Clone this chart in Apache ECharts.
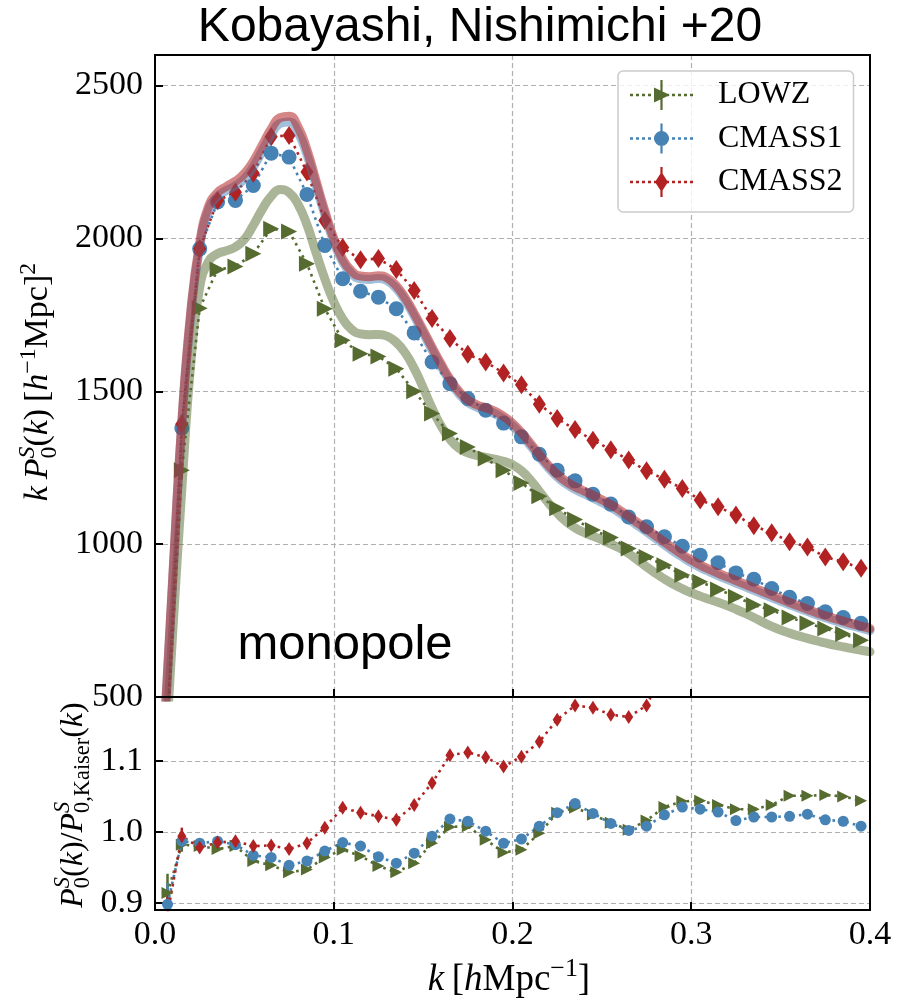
<!DOCTYPE html>
<html>
<head>
<meta charset="utf-8">
<script src="https://cdn.jsdelivr.net/npm/echarts@6/dist/echarts.min.js"></script>
<style>
  html, body { margin: 0; padding: 0; background: #ffffff; }
  #chart { width: 897px; height: 1006px; }
</style>
</head>
<body>
<div id="chart"></div>
<script>
// ---------------------------------------------------------------------------
// Measured monopole k P0(k) for three BOSS samples, with model curves and the
// ratio to the linear Kaiser prediction.
// ---------------------------------------------------------------------------

// k bin centres [h/Mpc]
const kBins = [0.007, 0.015, 0.025, 0.035, 0.045, 0.055, 0.065, 0.075, 0.085, 0.095,
               0.105, 0.115, 0.125, 0.135, 0.145, 0.155, 0.165, 0.175, 0.185, 0.195,
               0.205, 0.215, 0.225, 0.235, 0.245, 0.255, 0.265, 0.275, 0.285, 0.295,
               0.305, 0.315, 0.325, 0.335, 0.345, 0.355, 0.365, 0.375, 0.385, 0.395];

// k P0(k) [(Mpc/h)^2]
const lowzKP = [400, 1242, 1772, 1898, 1908, 1950, 2032, 2023, 1917, 1770,
                1667, 1623, 1614, 1574, 1500, 1427, 1362, 1318, 1280, 1242,
                1200, 1157, 1117, 1081, 1046, 1022, 986, 958, 931, 899,
                877, 852, 828, 801, 784, 760, 741, 724, 706, 686];
const cmass1KP = [430, 1380, 1966, 2119, 2124, 2173, 2279, 2266, 2144, 1977,
                  1868, 1827, 1808, 1770, 1691, 1596, 1525, 1476, 1438, 1396,
                  1351, 1294, 1242, 1207, 1163, 1131, 1089, 1057, 1024, 993,
                  964, 939, 906, 885, 855, 826, 806, 779, 760, 741];
const cmass2KP = [420, 1393, 1966, 2124, 2151, 2213, 2333, 2337, 2217, 2059,
                  1970, 1930, 1934, 1898, 1830, 1738, 1673, 1621, 1596, 1560,
                  1521, 1458, 1411, 1375, 1340, 1309, 1275, 1240, 1212, 1182,
                  1144, 1122, 1095, 1060, 1037, 1008, 991, 958, 942, 921];

// 1-sigma errors on the two lowest-k bins (higher-k errors sit inside the markers)
const lowzKPErr = [60, 25];
const cmass1KPErr = [60, 25];
const cmass2KPErr = [60, 30];

// P0(k) / P0,Kaiser(k)
const lowzRatio = [0.914, 0.982, 0.980, 0.976, 0.980, 0.959, 0.953, 0.943, 0.947, 0.964,
                   0.975, 0.966, 0.952, 0.943, 0.956, 0.984, 1.007, 1.008, 0.989, 0.971,
                   0.975, 0.998, 1.027, 1.034, 1.024, 1.013, 1.003, 1.016, 1.035, 1.043,
                   1.044, 1.038, 1.032, 1.032, 1.038, 1.051, 1.051, 1.052, 1.050, 1.044];
const cmass1Ratio = [0.898, 0.987, 0.984, 0.987, 0.982, 0.967, 0.964, 0.953, 0.959, 0.973,
                     0.985, 0.980, 0.965, 0.956, 0.970, 0.994, 1.018, 1.015, 1.001, 0.984,
                     0.990, 1.008, 1.027, 1.040, 1.026, 1.012, 1.002, 1.008, 1.024, 1.035,
                     1.032, 1.028, 1.016, 1.021, 1.021, 1.022, 1.025, 1.017, 1.015, 1.008];
const cmass2Ratio = [0.885, 0.994, 0.978, 0.985, 0.987, 0.980, 0.981, 0.976, 0.984, 1.006,
                     1.034, 1.027, 1.022, 1.017, 1.038, 1.069, 1.108, 1.112, 1.105, 1.092,
                     1.106, 1.127, 1.158, 1.178, 1.175, 1.165, 1.162, 1.178, 1.230, 1.240,
                     1.230, 1.250, 1.250, 1.240, 1.260, 1.270, 1.260, 1.270, 1.260, 1.260];

const lowzRatioErr = [0.027, 0.010];
const cmass1RatioErr = [0.030, 0.010];
const cmass2RatioErr = [0.030, 0.012];

// Model predictions of k P0(k), sampled every 0.005 h/Mpc
const kModel = [0.005, 0.010, 0.015, 0.020, 0.025, 0.030, 0.035, 0.040, 0.045, 0.050,
                0.055, 0.060, 0.065, 0.070, 0.075, 0.080, 0.085, 0.090, 0.095, 0.100,
                0.105, 0.110, 0.115, 0.120, 0.125, 0.130, 0.135, 0.140, 0.145, 0.150,
                0.155, 0.160, 0.165, 0.170, 0.175, 0.180, 0.185, 0.190, 0.195, 0.200,
                0.205, 0.210, 0.215, 0.220, 0.225, 0.230, 0.235, 0.240, 0.245, 0.250,
                0.255, 0.260, 0.265, 0.270, 0.275, 0.280, 0.285, 0.290, 0.295, 0.300,
                0.305, 0.310, 0.315, 0.320, 0.325, 0.330, 0.335, 0.340, 0.345, 0.350,
                0.355, 0.360, 0.365, 0.370, 0.375, 0.380, 0.385, 0.390, 0.395, 0.400];
const lowzModel = [230, 720, 1180, 1590, 1840, 1925, 1950, 1960, 1972, 1997,
                   2043, 2095, 2138, 2160, 2150, 2112, 2045, 1955, 1868, 1793,
                   1737, 1702, 1688, 1685, 1686, 1680, 1660, 1625, 1575, 1512,
                   1445, 1387, 1343, 1314, 1299, 1290, 1284, 1278, 1271, 1260,
                   1240, 1210, 1173, 1136, 1102, 1074, 1053, 1038, 1026, 1014,
                   1001, 987, 969, 948, 926, 905, 886, 869, 854, 841,
                   830, 820, 810, 799, 787, 774, 760, 745, 731, 719,
                   709, 700, 692, 684, 677, 670, 664, 658, 653, 648];
const cmass1Model = [365, 890, 1390, 1748, 1973, 2093, 2138, 2157, 2172, 2195,
                     2234, 2286, 2339, 2376, 2381, 2347, 2274, 2176, 2078, 1990,
                     1923, 1884, 1868, 1866, 1869, 1861, 1836, 1796, 1746, 1691,
                     1635, 1582, 1532, 1492, 1464, 1448, 1438, 1427, 1410, 1387,
                     1357, 1322, 1285, 1250, 1220, 1197, 1179, 1165, 1151, 1136,
                     1120, 1102, 1082, 1061, 1040, 1019, 998, 977, 958, 940,
                     924, 910, 897, 885, 873, 861, 849, 837, 825, 813,
                     802, 791, 780, 769, 759, 750, 741, 733, 725, 717];
const cmass2Model = [370, 900, 1400, 1760, 1985, 2105, 2150, 2170, 2187, 2212,
                     2252, 2305, 2358, 2395, 2400, 2365, 2290, 2190, 2090, 2000,
                     1932, 1893, 1877, 1875, 1878, 1870, 1845, 1805, 1755, 1700,
                     1644, 1590, 1540, 1500, 1472, 1456, 1446, 1435, 1418, 1395,
                     1365, 1330, 1293, 1258, 1228, 1205, 1188, 1174, 1160, 1145,
                     1129, 1111, 1091, 1070, 1049, 1028, 1007, 986, 966, 948,
                     932, 918, 905, 893, 881, 869, 857, 845, 833, 821,
                     809, 798, 787, 776, 766, 757, 748, 740, 732, 724];

// ---------------------------------------------------------------------------
const GREEN = '#556b2f';
const BLUE = '#4682b4';
const RED = '#b22222';
const SERIF = '"Liberation Serif", "DejaVu Serif", serif';
const SANS = '"Liberation Sans", Arial, sans-serif';
const TICK_SIZE = 34;
const DOTTED = [2.6, 4.3];
const GRID_LINE = { color: '#b0b0b0', width: 1.2, type: [5, 3] };

// panel rectangles (pixels)
const TOP_PANEL = { left: 155, top: 55, width: 715, height: 642 };
const BOTTOM_PANEL = { left: 155, top: 697, width: 715, height: 213 };

const pairs = (xs, ys) => ys.map((y, i) => [xs[i], y]);

// ---- math-style axis titles built from text runs ----
const measureCtx = document.createElement('canvas').getContext('2d');
const fontStr = (size, italic) => (italic ? 'italic ' : '') + size + 'px ' + SERIF;
function textWidth(t, size, italic) {
  measureCtx.font = fontStr(size, italic);
  return measureCtx.measureText(t).width;
}
// tokens: {t, it} text run | {space} gap in em | {sub, sup, supIt} scripts stacked at one x
function layoutMath(tokens, size) {
  const els = [];
  let x = 0;
  const put = (t, s, it, baseShift) => {
    els.push({
      type: 'text', x: x, y: baseShift - 0.3375 * s, silent: true,
      style: { text: t, font: fontStr(s, it), fill: '#000',
               align: 'left', verticalAlign: 'middle',
               textAlign: 'left', textVerticalAlign: 'middle' }
    });
    return textWidth(t, s, it);
  };
  for (const tk of tokens) {
    if (tk.space !== undefined) { x += tk.space * size; continue; }
    if (tk.sub !== undefined || tk.sup !== undefined) {
      const s = size * 0.7;
      let w = 0;
      if (tk.sup !== undefined) w = Math.max(w, put(tk.sup, s, !!tk.supIt, tk.sub !== undefined ? -size * 0.42 : -size * 0.40));
      if (tk.sub !== undefined) w = Math.max(w, put(tk.sub, s, false, size * 0.22));
      x += w;
      continue;
    }
    x += put(tk.t, size, !!tk.it, 0);
  }
  return { els, width: x };
}
function mathGroup(tokens, size, x, y, rotation) {
  const { els, width } = layoutMath(tokens, size);
  els.forEach(e => { e.x -= width / 2; });
  return { type: 'group', x: x, y: y, rotation: rotation || 0, children: els };
}

const yLabelTop = [
  { t: 'k', it: true }, { space: 0.2 }, { t: 'P', it: true }, { sub: '0', sup: 'S', supIt: true },
  { t: '(' }, { t: 'k', it: true }, { t: ')' }, { space: 0.2 },
  { t: '[' }, { t: 'h', it: true }, { sup: '\u22121' }, { t: 'Mpc' }, { t: ']' }, { sup: '2' }
];
const yLabelBottom = [
  { t: 'P', it: true }, { sub: '0', sup: 'S', supIt: true }, { t: '(' }, { t: 'k', it: true }, { t: ')' },
  { t: '/' },
  { t: 'P', it: true }, { sub: '0,Kaiser', sup: 'S', supIt: true }, { t: '(' }, { t: 'k', it: true }, { t: ')' }
];
const xLabel = [
  { t: 'k', it: true }, { space: 0.2 }, { t: '[' }, { t: 'h', it: true }, { t: 'Mpc' }, { sup: '\u22121' }, { t: ']' }
];

// ---- legend icons: dotted line, error bar and marker in one path ----
function legendIcon(marker) {
  let d = '';
  [0, 6, 12, 18, 24, 36, 42, 48, 54, 60].forEach(x0 => { d += 'M' + x0 + ' 13.7h3v2.6h-3Z'; });
  d += 'M30.4 0h2.2v30h-2.2Z';
  return 'path://' + d + marker;
}
const ICON_TRI = legendIcon('M24 7.5L40 15L24 22.5Z');
const ICON_CIRCLE = legendIcon('M24 15A7.5 7.5 0 1 1 39 15A7.5 7.5 0 1 1 24 15Z');
const ICON_DIAMOND = legendIcon('M31.5 5L38 15L31.5 25L25 15Z');

// ---- series builders ----
function dataSeries(name, axis, ks, vals, color, symbol, size, rotate) {
  return {
    name: name, type: 'line', xAxisIndex: axis, yAxisIndex: axis,
    data: pairs(ks, vals), symbol: symbol, symbolSize: size, symbolRotate: rotate || 0,
    showAllSymbol: true, clip: true, z: 2,
    itemStyle: { color: color },
    lineStyle: { color: color, width: 2.6, type: DOTTED, cap: 'butt' },
    emphasis: { disabled: true }
  };
}
function errorSeries(name, axis, ks, vals, errs, color) {
  return {
    name: name, type: 'custom', xAxisIndex: axis, yAxisIndex: axis, clip: true, z: 2, silent: true,
    data: errs.map((e, i) => [ks[i], vals[i] - e, vals[i] + e]),
    encode: { x: 0, y: [1, 2] },
    renderItem: function (params, api) {
      const lo = api.coord([api.value(0), api.value(1)]);
      const hi = api.coord([api.value(0), api.value(2)]);
      return { type: 'line', shape: { x1: lo[0], y1: lo[1], x2: hi[0], y2: hi[1] },
               style: { stroke: color, lineWidth: 2.5 } };
    }
  };
}
function modelSeries(name, vals, color, opacity) {
  return {
    name: name, type: 'line', xAxisIndex: 0, yAxisIndex: 0,
    data: pairs(kModel, vals), showSymbol: false, symbol: 'none',
    smooth: 0.5, clip: true, z: 3, silent: true,
    lineStyle: { color: color, width: 9, opacity: opacity, cap: 'round', join: 'round' }
  };
}

const axisLineStyle = { show: true, lineStyle: { color: '#000', width: 2 } };
const tickStyle = { show: true, inside: true, length: 8, lineStyle: { color: '#000', width: 2 } };
const labelStyle = { color: '#000', fontFamily: SERIF, fontSize: TICK_SIZE };
const splitStyle = { show: true, showMinLine: false, showMaxLine: false, lineStyle: GRID_LINE };

function frame(p) {
  return { type: 'rect', silent: true, z: 100,
           shape: { x: p.left, y: p.top, width: p.width, height: p.height },
           style: { fill: 'none', stroke: '#000', lineWidth: 2 } };
}

const option = {
  animation: false,
  backgroundColor: '#ffffff',
  title: {
    text: 'Kobayashi, Nishimichi +20',
    left: 480, top: 4, textAlign: 'center', padding: 0,
    textStyle: { fontFamily: SANS, fontSize: 48, fontWeight: 'normal', color: '#000' }
  },
  legend: {
    data: [{ name: 'LOWZ', icon: ICON_TRI }, { name: 'CMASS1', icon: ICON_CIRCLE }, { name: 'CMASS2', icon: ICON_DIAMOND }],
    orient: 'vertical', left: 618, top: 71,
    padding: [8, 11, 14, 12],
    itemWidth: 63, itemHeight: 30, itemGap: 11.5,
    backgroundColor: 'rgba(255,255,255,0.8)',
    borderColor: '#cccccc', borderWidth: 1.5, borderRadius: 5,
    selectedMode: false,
    textStyle: { fontFamily: SERIF, fontSize: 32, color: '#000', lineHeight: 32, padding: [0, 0, 0, 20] }
  },
  grid: [
    Object.assign({ show: false }, TOP_PANEL),
    Object.assign({ show: false }, BOTTOM_PANEL)
  ],
  xAxis: [
    { type: 'value', gridIndex: 0, min: 0, max: 0.4, interval: 0.1,
      axisLine: axisLineStyle, axisTick: tickStyle, axisLabel: { show: false },
      splitLine: splitStyle },
    { type: 'value', gridIndex: 1, min: 0, max: 0.4, interval: 0.1,
      axisLine: axisLineStyle, axisTick: tickStyle,
      axisLabel: Object.assign({ margin: 8, formatter: v => v.toFixed(1) }, labelStyle),
      splitLine: splitStyle }
  ],
  yAxis: [
    { type: 'value', gridIndex: 0, min: 500, max: 2600, interval: 500,
      axisLine: axisLineStyle, axisTick: tickStyle,
      axisLabel: Object.assign({ margin: 12, showMaxLabel: false, formatter: v => String(v) }, labelStyle),
      splitLine: splitStyle },
    { type: 'value', gridIndex: 1, min: 0.89, max: 1.19, splitNumber: 3, minInterval: 0.1, maxInterval: 0.1,
      axisLine: axisLineStyle, axisTick: tickStyle,
      axisLabel: Object.assign({ margin: 12, showMinLabel: false, showMaxLabel: false, formatter: v => v.toFixed(1) }, labelStyle),
      splitLine: splitStyle }
  ],
  graphic: [
    frame(TOP_PANEL),
    frame(BOTTOM_PANEL),
    { type: 'text', x: 345, y: 662 - 0.3465 * 49, silent: true,
      style: { text: 'monopole', font: '49px ' + SANS, fill: '#000',
               align: 'center', verticalAlign: 'middle', textAlign: 'center', textVerticalAlign: 'middle' } },
    mathGroup(yLabelTop, 34, 50, 382, Math.PI / 2),
    mathGroup(yLabelBottom, 32, 84, 805, Math.PI / 2),
    mathGroup(xLabel, 37, 509, 993, 0)
  ],
  series: [
    // measured spectra
    dataSeries('LOWZ', 0, kBins, lowzKP, GREEN, 'triangle', 16, -90),
    dataSeries('CMASS1', 0, kBins, cmass1KP, BLUE, 'circle', 15),
    dataSeries('CMASS2', 0, kBins, cmass2KP, RED, 'diamond', [13, 19]),
    errorSeries('LOWZ', 0, kBins, lowzKP, lowzKPErr, GREEN),
    errorSeries('CMASS1', 0, kBins, cmass1KP, cmass1KPErr, BLUE),
    errorSeries('CMASS2', 0, kBins, cmass2KP, cmass2KPErr, RED),
    // model curves
    modelSeries('LOWZ model', lowzModel, GREEN, 0.5),
    modelSeries('CMASS1 model', cmass1Model, BLUE, 0.5),
    modelSeries('CMASS2 model', cmass2Model, RED, 0.55),
    // ratios to Kaiser
    dataSeries('LOWZ', 1, kBins, lowzRatio, GREEN, 'triangle', 12, -90),
    dataSeries('CMASS1', 1, kBins, cmass1Ratio, BLUE, 'circle', 11),
    dataSeries('CMASS2', 1, kBins, cmass2Ratio, RED, 'diamond', [9, 14]),
    errorSeries('LOWZ', 1, kBins, lowzRatio, lowzRatioErr, GREEN),
    errorSeries('CMASS1', 1, kBins, cmass1Ratio, cmass1RatioErr, BLUE),
    errorSeries('CMASS2', 1, kBins, cmass2Ratio, cmass2RatioErr, RED)
  ]
};

const chart = echarts.init(document.getElementById('chart'), null, { renderer: 'canvas' });
chart.setOption(option);
</script>
</body>
</html>
